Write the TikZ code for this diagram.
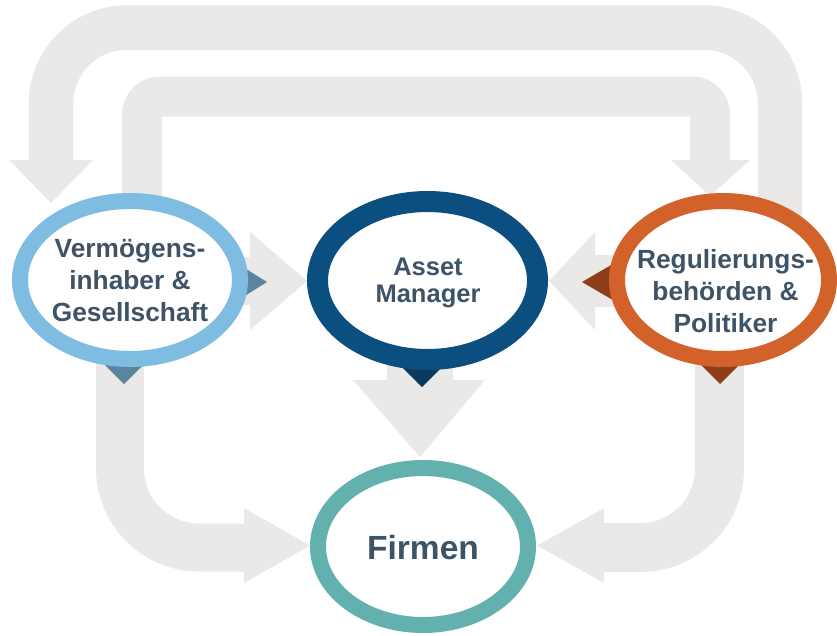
\documentclass[tikz,border=0pt]{standalone}
\usepackage{fontspec}
\setmainfont{Liberation Sans}
\usetikzlibrary{shapes.geometric}
\definecolor{greyarrow}{RGB}{234,233,231}
\definecolor{ringlb}{RGB}{127,188,225}
\definecolor{ringnavy}{RGB}{11,79,128}
\definecolor{ringorange}{RGB}{210,98,42}
\definecolor{ringteal}{RGB}{98,177,174}
\definecolor{tipslate}{RGB}{90,132,160}
\definecolor{tipnavy}{RGB}{12,58,92}
\definecolor{tipbrown}{RGB}{142,63,26}
\definecolor{labelc}{RGB}{62,83,102}
\begin{document}
\begin{tikzpicture}[x=1pt,y=-1pt,
  band/.style={draw=greyarrow, line width=#1},
  headshape/.style={fill=greyarrow},
  ring/.style={ellipse, fill=white, inner sep=0pt, line width=16pt},
  labeltext/.style={text=labelc, font=\fontsize{26.3}{32}\selectfont\bfseries, align=center, inner sep=0pt}
]
\useasboundingbox (0,0) rectangle (837,635);
% outer loop: Regulierung -> Vermoegen
\draw[band=44.5pt, rounded corners=76pt] (780,240) -- (780,27.5) -- (51,27.5) -- (51,161);
\fill[headshape] (9,160) -- (93,160) -- (51,203) -- cycle;
% inner loop: Vermoegen -> Regulierung
\draw[band=40pt, rounded corners=18pt] (142,240) -- (142,96.5) -- (710,96.5) -- (710,161);
\fill[headshape] (671,160) -- (750,160) -- (710,196) -- cycle;
% L arrows to Firmen
\draw[band=48pt, rounded corners=79pt] (120,320) -- (120,547.5) -- (245,547.5);
\fill[headshape] (244,508) -- (244,583) -- (310,545.5) -- cycle;
\draw[band=49pt, rounded corners=79pt] (719.5,320) -- (719.5,547.5) -- (603,547.5);
\fill[headshape] (604,508) -- (604,583) -- (537,545.5) -- cycle;
% horizontal arrows to Asset Manager
\draw[band=48pt] (200,281) -- (251,281);
\fill[headshape] (250,232) -- (250,330) -- (307,281) -- cycle;
\draw[band=52pt] (650,281) -- (594,281);
\fill[headshape] (595,232) -- (595,330) -- (549,281) -- cycle;
% down arrow Asset Manager -> Firmen
\draw[band=66pt] (420,340) -- (420,381);
\fill[headshape] (353,380) -- (485,380) -- (420,457) -- cycle;
% small pointer triangles
\fill[tipslate] (235,262) -- (235,302) -- (267,282) -- cycle;
\fill[tipslate] (94,354) -- (154,354) -- (124,384) -- cycle;
\fill[tipnavy] (390,355) -- (454,355) -- (422,387) -- cycle;
\fill[tipbrown] (618,261) -- (618,303) -- (582,282) -- cycle;
\fill[tipbrown] (690,354) -- (750,354) -- (720,384) -- cycle;
% rings
\node[ring, draw=ringlb, minimum width=220pt, minimum height=158pt] (vring) at (130,280) {};
\node[ring, draw=ringnavy, line width=21pt, minimum width=220pt, minimum height=158pt] (aring) at (427.5,280.5) {};
\node[ring, draw=ringorange, minimum width=212pt, minimum height=158pt] (rring) at (723,280) {};
\node[ring, draw=ringteal, minimum width=210pt, minimum height=157pt] (fring) at (423,546.5) {};
% texts
\node[labeltext] (vtext) at (130,281) {Vermögens-\\inhaber \&\\Gesellschaft};
\node[labeltext, font=\fontsize{25.5}{27}\selectfont\bfseries] (atext) at (428,283) {Asset\\Manager};
\node[labeltext] (rtext) at (725.5,291) {Regulierungs-\\behörden \&\\Politiker};
\node[labeltext, font=\fontsize{33.5}{40}\selectfont\bfseries] (ftext) at (423,548) {Firmen};
\end{tikzpicture}
\end{document}
